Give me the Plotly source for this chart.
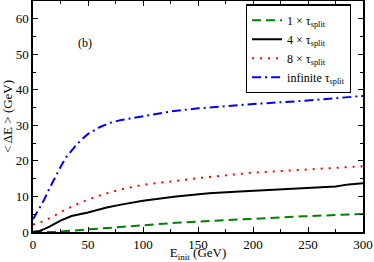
import plotly.graph_objects as go

x_inf = [0, 5, 10, 15, 20, 25, 30, 35, 40, 45, 50, 60, 70, 80, 100, 125, 150, 175, 200, 250, 300]
y_inf = [3.6, 6.2, 9, 12.3, 15.4, 18.3, 21, 23, 24.7, 26.2, 27.6, 29.4, 30.7, 31.5, 32.6, 33.9, 34.8, 35.5, 36, 37, 38.3]

x_8 = [0, 10, 20, 30, 40, 50, 65, 80, 100, 130, 160, 200, 250, 300]
y_8 = [2.1, 3.1, 4.7, 6.4, 7.8, 9.1, 10.7, 12, 13.3, 14.5, 15.5, 16.7, 17.7, 18.5]

x_4 = [0, 6, 10, 15, 25, 35, 50, 67, 80, 100, 130, 160, 188, 240, 275, 287, 300]
y_4 = [0.1, 0.3, 0.8, 1.5, 3.2, 4.5, 5.5, 6.9, 7.7, 8.8, 10.0, 10.9, 11.4, 12.3, 12.8, 13.4, 13.7]

x_1 = [0, 10, 20, 30, 45, 60, 80, 100, 130, 160, 190, 245, 300]
y_1 = [0, 0, 0.05, 0.25, 0.6, 0.95, 1.5, 2.0, 2.6, 3.1, 3.6, 4.4, 5.1]

names = ["1 × τ<sub>split</sub>", "4 × τ<sub>split</sub>", "8 × τ<sub>split</sub>", "infinite τ<sub>split</sub>"]

font = "Liberation Serif"

fig = go.Figure()
fig.add_trace(go.Scatter(x=x_1, y=y_1, mode="lines", name=names[0],
                         line=dict(color="#008000", width=2, dash="9px,5px")))
fig.add_trace(go.Scatter(x=x_4, y=y_4, mode="lines", name=names[1],
                         line=dict(color="black", width=2)))
fig.add_trace(go.Scatter(x=x_8, y=y_8, mode="lines", name=names[2],
                         line=dict(color="#ff0000", width=2, dash="2px,6px")))
fig.add_trace(go.Scatter(x=x_inf, y=y_inf, mode="lines", name=names[3],
                         line=dict(color="#0000ff", width=2, dash="9px,4px,2px,4px")))

axis_common = dict(showgrid=False, zeroline=False, showline=True, linecolor="black",
                   linewidth=1.5, mirror="allticks", ticks="inside", ticklen=5,
                   tickcolor="black", tickwidth=1.2, automargin=False,
                   tickfont=dict(family=font, size=13, color="black"))

fig.update_xaxes(range=[0, 300], dtick=50, tick0=0,
                 minor=dict(dtick=25, ticks="inside", ticklen=3, tickcolor="black"),
                 title=dict(text="E<sub>init</sub> (GeV)", font=dict(family=font, size=13, color="black"),
                            standoff=3),
                 **axis_common)
fig.update_yaxes(range=[0, 65], dtick=10, tick0=0,
                 minor=dict(dtick=5, ticks="inside", ticklen=3, tickcolor="black"),
                 title=dict(text="< ΔE > (GeV)", font=dict(family=font, size=13, color="black"),
                            standoff=2),
                 **axis_common)

fig.add_annotation(x=0.13, y=0.855, xref="paper", yref="paper", text="(b)", showarrow=False,
                   font=dict(family=font, size=12, color="black"))

fig.update_layout(
    width=374, height=262,
    margin=dict(l=33, r=11, t=1, b=30),
    plot_bgcolor="white", paper_bgcolor="white",
    legend=dict(x=0.645, y=0.985, xanchor="left", yanchor="top",
                bordercolor="black", borderwidth=1.2, bgcolor="white",
                font=dict(family=font, size=12, color="black"),
                tracegroupgap=0, itemwidth=30),
    showlegend=True,
)

fig.write_html("out.html", config={"displayModeBar": False},
               post_script="document.body.style.margin='0';")
